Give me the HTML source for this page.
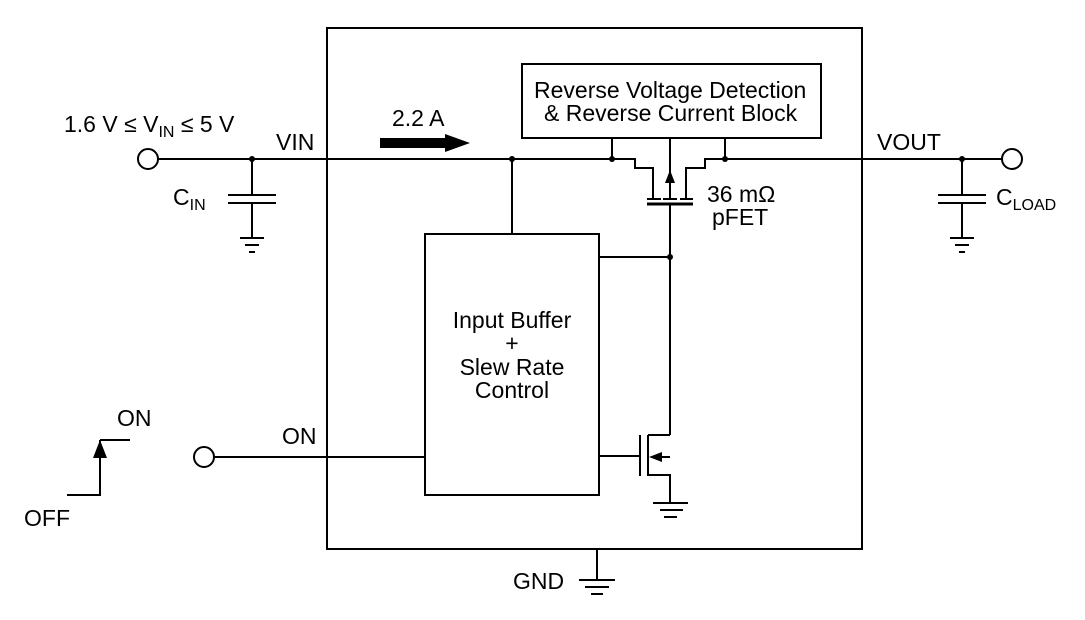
<!DOCTYPE html>
<html><head><style>body{margin:0;background:#fff}svg{display:block}text{font-family:"Liberation Sans",sans-serif;font-size:23px;fill:#000}</style></head><body>
<svg width="1085" height="620" viewBox="0 0 1085 620" xmlns="http://www.w3.org/2000/svg">
<g fill="none" stroke="#000" stroke-width="2">
<rect x="327" y="28" width="535" height="521"/>
<rect x="522" y="64" width="299" height="74"/>
<rect x="425" y="234" width="174" height="261"/>
<circle cx="148" cy="159" r="10"/>
<circle cx="1012" cy="159" r="10"/>
<circle cx="204" cy="457" r="10"/>
<path d="M158 159H612L635 159V168H653V199"/>
<path d="M725 159H1002"/>
<path d="M725 159H705V168H686V199"/>
<path d="M612 138V159M725 138V159M670 138V199"/>
<path d="M647 199H661M663 199H677M680 199H693"/>
<path stroke-width="3" d="M647 204H693"/>
<path d="M670 204V435M599 257H670"/>
<path d="M512 159V234"/>
<path d="M214 457H425"/>
<path d="M599 456H640M640 435V476M648 435V476M648 435H670M648 475H670V503M670 457H660"/>
<path d="M653 503H688M660 510H683M664 517H677"/>
<path d="M252 159V195M252 203V238M228 195H276M228 203H276M240 238H264M245 245H259M249 252H255"/>
<path d="M962 159V195M962 203V238M938 195H986M938 203H986M950 238H974M955 245H969M959 252H965"/>
<path d="M597 549V580M579 580H615M585 587H609M591 594H603"/>
<path d="M67 495H100V462M100 440H130"/>
<path d="M100 440V470"/>
</g>
<g fill="#000">
<circle cx="252" cy="159" r="3"/><circle cx="512" cy="159" r="3"/><circle cx="612" cy="159" r="3"/><circle cx="725" cy="159" r="3"/><circle cx="962" cy="159" r="3"/><circle cx="670" cy="257" r="3"/>
<path d="M670 170L665 183H675Z"/>
<path d="M649 457L662 452V462Z"/>
<path d="M380 138H445V134L470 143L445 152V148H380Z"/>
<path d="M100 440L93 458H107Z"/>
</g>
<text x="534" y="98">Reverse Voltage Detection</text>
<text x="544" y="121">&amp; Reverse Current Block</text>
<text x="392" y="126">2.2 A</text>
<text x="64" y="132">1.6 V ≤ V<tspan font-size="16" dy="5">IN</tspan><tspan dy="-5"> ≤ 5 V</tspan></text>
<text x="276" y="150">VIN</text>
<text x="877" y="150">VOUT</text>
<text x="173" y="205">C<tspan font-size="16" dy="5">IN</tspan></text>
<text x="996" y="205">C<tspan font-size="16" dy="5">LOAD</tspan></text>
<text x="707" y="202">36 mΩ</text>
<text x="712" y="225">pFET</text>
<text x="512" y="328" text-anchor="middle">Input Buffer</text>
<text x="512" y="351" text-anchor="middle">+</text>
<text x="512" y="375" text-anchor="middle">Slew Rate</text>
<text x="512" y="398" text-anchor="middle">Control</text>
<text x="282" y="444">ON</text>
<text x="117" y="426">ON</text>
<text x="24" y="526">OFF</text>
<text x="513" y="589">GND</text>
</svg>
</body></html>
